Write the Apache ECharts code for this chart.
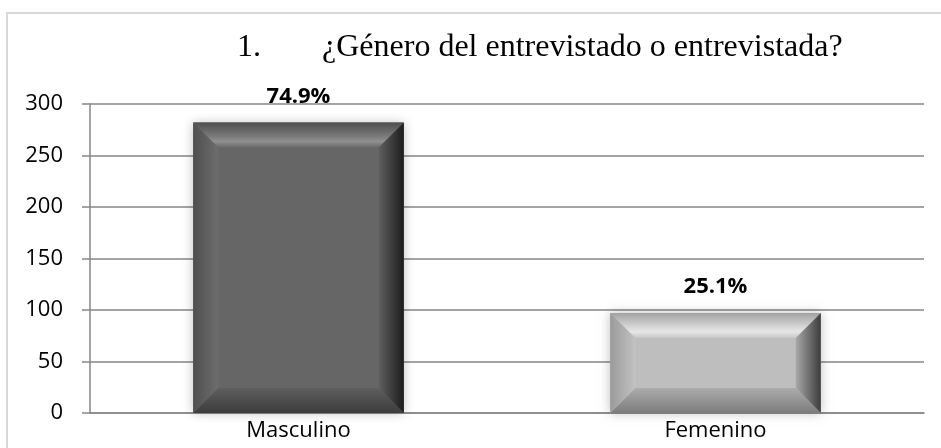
<!DOCTYPE html>
<html>
<head>
<meta charset="utf-8">
<script src="https://cdn.jsdelivr.net/npm/echarts@6/dist/echarts.min.js"></script>
<style>
  html, body { margin: 0; padding: 0; background: #fff; }
  #chart { width: 941px; height: 448px; }
</style>
</head>
<body>
<div id="chart"></div>
<script>
// datos
const categories = ["Masculino", "Femenino"];
const counts = [282, 97];
const percentLabels = ["74.9%", "25.1%"];
const yTicks = [0, 50, 100, 150, 200, 250, 300];

const titleNumber = "1.";
const titleText = "¿Género del entrevistado o entrevistada?";

// estilos de las barras (bisel)
const barStyles = [
  {
    face: "#666666",
    top: ["#4e4e4e", "#7a7a7a", "#909090", "#6a6a6a"],
    left: ["#4f4f4f", "#6d6d6d"],
    right: ["#1c1c1c", "#5f5f5f"],
    bottom: ["#3c3c3c", "#5e5e5e"],
  },
  {
    face: "#bebebe",
    top: ["#a2a2a2", "#d6d6d6", "#e6e6e6", "#c6c6c6"],
    left: ["#9a9a9a", "#c2c2c2"],
    right: ["#3c3c3c", "#a8a8a8"],
    bottom: ["#7c7c7c", "#acacac"],
  },
];

const axisFont = "'Open Sans', 'Noto Sans', sans-serif";
const titleFont = "32px 'Liberation Serif', 'DejaVu Serif', serif";
const grad = echarts.graphic.LinearGradient;

// dibuja cada barra con bisel usando las escalas del eje
function renderBar(params, api) {
  const idx = api.value(0);
  const top = api.coord([idx, api.value(1)]);
  const base = api.coord([idx, 0]);
  const w = api.size([1, 0])[0] * 0.505;
  const x0 = top[0] - w / 2;
  const x1 = top[0] + w / 2;
  const y0 = top[1];
  const y1 = base[1];
  const b = Math.min(25, (y1 - y0) / 2);
  const s = barStyles[idx];
  return {
    type: "group",
    children: [
      {
        type: "rect",
        shape: { x: x0, y: y0, width: w, height: y1 - y0 },
        style: { fill: s.face, shadowBlur: 10, shadowColor: "rgba(0,0,0,0.25)" },
      },
      {
        type: "polygon",
        shape: { points: [[x0, y0], [x1, y0], [x1 - b, y0 + b], [x0 + b, y0 + b]] },
        style: {
          fill: new grad(0, 0, 0, 1, [
            { offset: 0, color: s.top[0] },
            { offset: 0.55, color: s.top[1] },
            { offset: 0.75, color: s.top[2] },
            { offset: 1, color: s.top[3] },
          ]),
        },
      },
      {
        type: "polygon",
        shape: { points: [[x0, y1], [x1, y1], [x1 - b, y1 - b], [x0 + b, y1 - b]] },
        style: {
          fill: new grad(0, 1, 0, 0, [
            { offset: 0, color: s.bottom[0] },
            { offset: 1, color: s.bottom[1] },
          ]),
        },
      },
      {
        type: "polygon",
        shape: { points: [[x0, y0], [x0 + b, y0 + b], [x0 + b, y1 - b], [x0, y1]] },
        style: {
          fill: new grad(0, 0, 1, 0, [
            { offset: 0, color: s.left[0] },
            { offset: 1, color: s.left[1] },
          ]),
        },
      },
      {
        type: "polygon",
        shape: { points: [[x1, y0], [x1 - b, y0 + b], [x1 - b, y1 - b], [x1, y1]] },
        style: {
          fill: new grad(1, 0, 0, 0, [
            { offset: 0, color: s.right[0] },
            { offset: 1, color: s.right[1] },
          ]),
        },
      },
      {
        type: "text",
        style: {
          text: percentLabels[idx],
          x: top[0],
          y: y0 - 15,
          align: "center",
          verticalAlign: "bottom",
          font: "bold 22px " + axisFont,
          fill: "#000",
        },
      },
    ],
  };
}

const chart = echarts.init(document.getElementById("chart"), null, { renderer: "canvas" });

chart.setOption({
  animation: false,
  backgroundColor: "#fff",
  grid: { left: 90, right: 17, top: 104, bottom: 35 },
  graphic: [
    {
      type: "rect",
      shape: { x: 7, y: 13, width: 960, height: 470 },
      style: { fill: "none", stroke: "#d9d9d9", lineWidth: 2 },
      z: -1,
    },
    {
      type: "text",
      style: {
        text: titleNumber,
        x: 237,
        y: 48,
        verticalAlign: "middle",
        font: titleFont,
        fill: "#000",
      },
    },
    {
      type: "text",
      style: {
        text: titleText,
        x: 322,
        y: 48,
        verticalAlign: "middle",
        font: titleFont,
        fill: "#000",
      },
    },
  ],
  xAxis: {
    type: "category",
    data: categories,
    axisLine: { lineStyle: { color: "#868686", width: 1.5 } },
    axisTick: { show: false },
    axisLabel: { color: "#000", fontSize: 22, fontFamily: axisFont, margin: 7 },
  },
  yAxis: {
    type: "value",
    min: yTicks[0],
    max: yTicks[yTicks.length - 1],
    interval: yTicks[1] - yTicks[0],
    axisLine: { show: true, lineStyle: { color: "#868686", width: 1.5 } },
    axisTick: { show: true, length: 8, lineStyle: { color: "#868686", width: 1.5 } },
    splitLine: { lineStyle: { color: "#868686", width: 1.5 } },
    axisLabel: { color: "#000", fontSize: 22, fontFamily: axisFont, margin: 27 },
  },
  series: [
    {
      type: "custom",
      renderItem: renderBar,
      encode: { x: 0, y: 1 },
      data: categories.map((c, i) => [i, counts[i]]),
      z: 3,
    },
  ],
});
</script>
</body>
</html>
